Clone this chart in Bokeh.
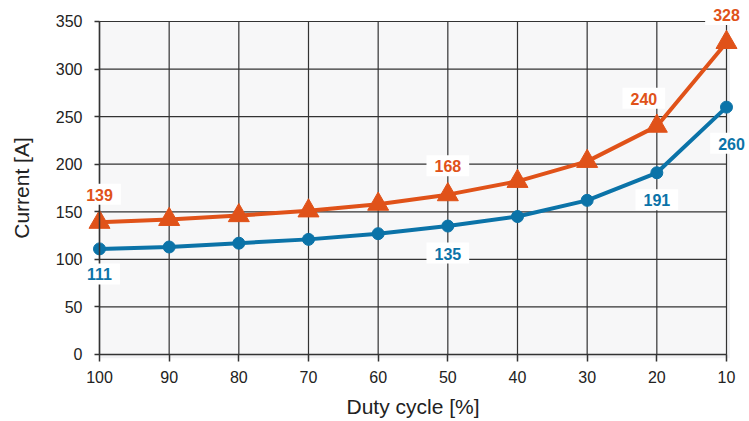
from bokeh.plotting import figure
from bokeh.models import Range1d, FixedTicker, Label
from bokeh.embed import file_html
from bokeh.resources import INLINE

# ---- data ----
duty_cycle = [100, 90, 80, 70, 60, 50, 40, 30, 20, 10]
current_upper = [139, 142, 146, 151, 158, 168, 182, 203, 240, 328]
current_lower = [111, 113, 117, 121, 127, 135, 145, 162, 191, 260]
y_ticks = [0, 50, 100, 150, 200, 250, 300, 350]
x_ticks = duty_cycle

# which points carry a value label
upper_labelled = [0, 5, 8, 9]
lower_labelled = [0, 5, 8, 9]
# label offsets (screen px) - layout only
upper_offsets = [(0, 28), (0, 29), (-13, 28), (0, 28)]
lower_offsets = [(0, -25), (0, -27), (0, -27), (5, -36)]

ORANGE = "#e05219"
BLUE = "#0b73a8"
GRID = "#333333"
FONT = "Liberation Sans"
TEXT = "#222222"

p = figure(width=747, height=419, output_backend="svg", toolbar_location=None,
           x_range=Range1d(114.21, 6.985), y_range=Range1d(-68.32, 372.07),
           min_border=0)
p.outline_line_color = None
p.background_fill_color = "white"
p.border_fill_color = "white"
p.xgrid.visible = False
p.ygrid.visible = False

# subtle shadow and plot area background
p.quad(left=[x_ticks[0]], right=[x_ticks[-1] - 0.5], bottom=[y_ticks[0] - 4], top=[y_ticks[-1]],
       fill_color="#e9eaec", fill_alpha=0.6, line_color=None, level="image")
p.quad(left=[x_ticks[0]], right=[x_ticks[-1]], bottom=[y_ticks[0]], top=[y_ticks[-1]],
       fill_color="#f7f7f8", line_color=None, level="image")

# grid lines drawn only inside the plot area
n_x = len(x_ticks)
p.segment(x0=x_ticks, x1=x_ticks, y0=[y_ticks[0]] * n_x, y1=[y_ticks[-1]] * n_x,
          line_color=GRID, line_width=1.2, level="underlay")
n_y = len(y_ticks)
p.segment(x0=[x_ticks[0]] * n_y, x1=[x_ticks[-1]] * n_y, y0=y_ticks, y1=y_ticks,
          line_color=GRID, line_width=1.2, level="underlay")

# series
p.line(duty_cycle, current_upper, line_color=ORANGE, line_width=4)
p.scatter(duty_cycle, current_upper, marker="triangle", size=21,
          fill_color=ORANGE, line_color=ORANGE)
p.line(duty_cycle, current_lower, line_color=BLUE, line_width=4)
p.scatter(duty_cycle, current_lower, marker="circle", size=12,
          fill_color=BLUE, line_color=BLUE)

# value labels
def add_labels(series, idxs, offsets, color):
    for i, (dx, dy) in zip(idxs, offsets):
        p.add_layout(Label(x=duty_cycle[i], y=series[i], text=str(series[i]),
                           x_offset=dx, y_offset=dy,
                           text_align="center", text_baseline="middle",
                           text_font=FONT, text_font_size="16px", text_font_style="bold",
                           text_color=color, background_fill_color="white",
                           padding=dict(left=8, right=8, top=5, bottom=4)))

add_labels(current_upper, upper_labelled, upper_offsets, ORANGE)
add_labels(current_lower, lower_labelled, lower_offsets, BLUE)

# axes, pinned to the data origin of the plot area
p.xaxis.fixed_location = y_ticks[0]
p.yaxis.fixed_location = x_ticks[0]
p.xaxis.ticker = FixedTicker(ticks=x_ticks)
p.yaxis.ticker = FixedTicker(ticks=y_ticks)
p.xaxis.bounds = (x_ticks[-1], x_ticks[0])
p.yaxis.bounds = (y_ticks[0], y_ticks[-1])
p.xaxis.axis_label = "Duty cycle [%]"
p.yaxis.axis_label = "Current [A]"
for ax in (p.xaxis, p.yaxis):
    ax.axis_line_color = GRID
    ax.axis_line_width = 1.5
    ax.major_tick_line_color = GRID
    ax.major_tick_line_width = 1.5
    ax.major_tick_in = 0
    ax.minor_tick_line_color = None
    ax.major_label_text_font = FONT
    ax.major_label_text_font_size = "16px"
    ax.major_label_text_color = TEXT
    ax.axis_label_text_font = FONT
    ax.axis_label_text_font_size = "21px"
    ax.axis_label_text_font_style = "normal"
    ax.axis_label_text_color = TEXT
p.xaxis.major_tick_out = 7
p.yaxis.major_tick_out = 5
p.xaxis.major_label_standoff = 10
p.xaxis.axis_label_standoff = 8
p.yaxis.major_label_standoff = 12
p.yaxis.axis_label_standoff = 20

open("out.html", "w").write(file_html(p, INLINE))
